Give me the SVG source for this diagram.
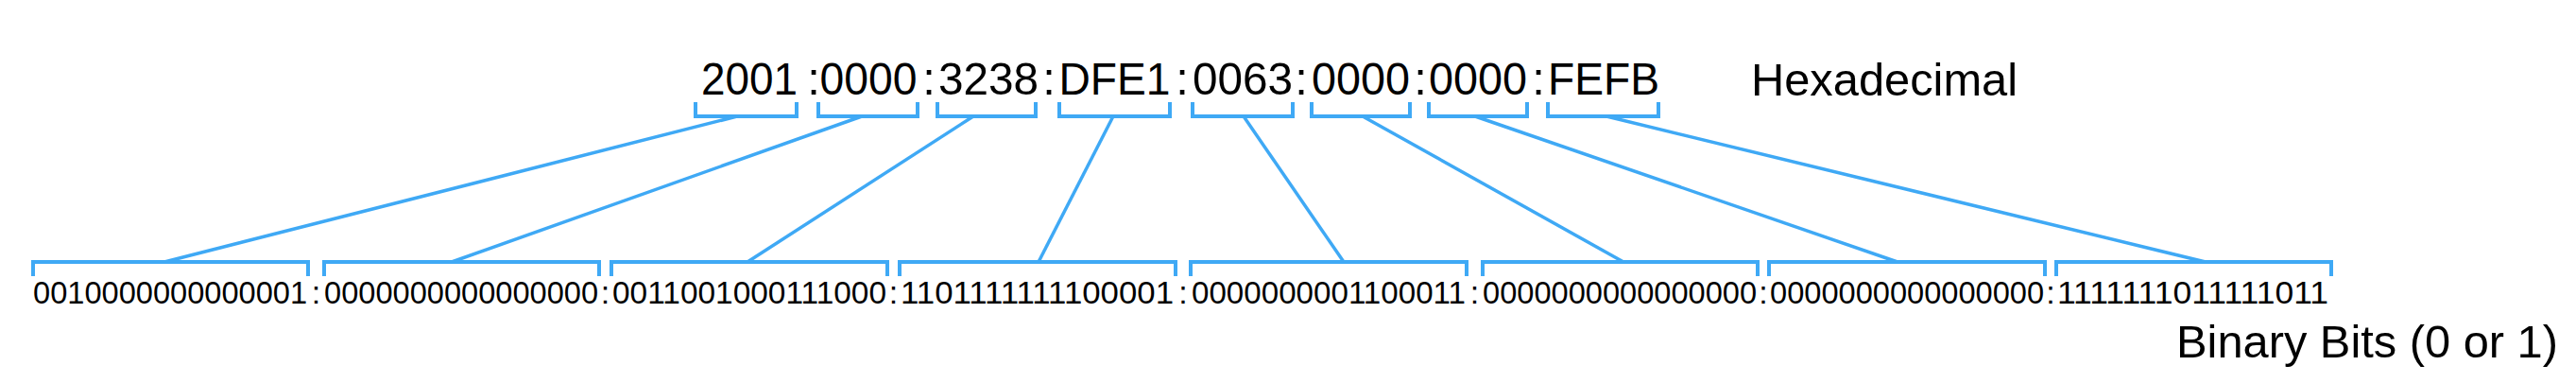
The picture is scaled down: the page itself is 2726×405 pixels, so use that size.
<svg xmlns="http://www.w3.org/2000/svg" width="2726" height="405" viewBox="0 0 2726 405">
<style>
.br{fill:none;stroke:#3fa9f5;stroke-width:4;stroke-linejoin:miter}
.cn{fill:none;stroke:#3fa9f5;stroke-width:3.5}
.hx{font-family:"Liberation Sans",Arial,sans-serif;font-size:49px;fill:#000;text-anchor:middle}
.lb{font-family:"Liberation Sans",Arial,sans-serif;font-size:49px;fill:#000}
.bn{font-family:"Liberation Sans",Arial,sans-serif;font-size:34px;fill:#000}
.bc{font-family:"Liberation Sans",Arial,sans-serif;font-size:34px;fill:#000;text-anchor:middle}
</style>
<rect width="2726" height="405" fill="#fff"/>
<g id="hex-row">
<g id="hex1"><path class="br" d="M736,108V123H843V108"/><text class="hx" x="793" y="100" textLength="102" lengthAdjust="spacingAndGlyphs">2001</text></g>
<text class="hx" x="861" y="100">:</text>
<g id="hex2"><path class="br" d="M866,108V123H971V108"/><text class="hx" x="919" y="100" textLength="103" lengthAdjust="spacingAndGlyphs">0000</text></g>
<text class="hx" x="983" y="100">:</text>
<g id="hex3"><path class="br" d="M992,108V123H1096V108"/><text class="hx" x="1046" y="100" textLength="106" lengthAdjust="spacingAndGlyphs">3238</text></g>
<text class="hx" x="1110" y="100">:</text>
<g id="hex4"><path class="br" d="M1121,108V123H1238V108"/><text class="hx" x="1179.5" y="100" textLength="118" lengthAdjust="spacingAndGlyphs">DFE1</text></g>
<text class="hx" x="1251" y="100">:</text>
<g id="hex5"><path class="br" d="M1262,108V123H1368V108"/><text class="hx" x="1315" y="100" textLength="106" lengthAdjust="spacingAndGlyphs">0063</text></g>
<text class="hx" x="1377" y="100">:</text>
<g id="hex6"><path class="br" d="M1388,108V123H1492V108"/><text class="hx" x="1440" y="100" textLength="104" lengthAdjust="spacingAndGlyphs">0000</text></g>
<text class="hx" x="1503" y="100">:</text>
<g id="hex7"><path class="br" d="M1512,108V123H1616V108"/><text class="hx" x="1564" y="100" textLength="104" lengthAdjust="spacingAndGlyphs">0000</text></g>
<text class="hx" x="1628" y="100">:</text>
<g id="hex8"><path class="br" d="M1638,108V123H1755V108"/><text class="hx" x="1697" y="100" textLength="118" lengthAdjust="spacingAndGlyphs">FEFB</text></g>
</g>
<g id="label-hex"><text class="lb" x="1853" y="101" textLength="282" lengthAdjust="spacingAndGlyphs">Hexadecimal</text></g>
<g id="connectors">
<line class="cn" x1="780" y1="123" x2="174" y2="277"/>
<line class="cn" x1="912" y1="123" x2="478" y2="277"/>
<line class="cn" x1="1030" y1="123" x2="791" y2="277"/>
<line class="cn" x1="1178" y1="123" x2="1099" y2="277"/>
<line class="cn" x1="1316" y1="123" x2="1422" y2="277"/>
<line class="cn" x1="1442" y1="123" x2="1718" y2="277"/>
<line class="cn" x1="1561" y1="123" x2="2008" y2="277"/>
<line class="cn" x1="1700" y1="123" x2="2334" y2="277"/>
</g>
<g id="bin-row">
<g id="bin1"><path class="br" d="M35,292V277H326V292"/><text class="bn" x="35" y="321" textLength="290" lengthAdjust="spacingAndGlyphs">0010000000000001</text></g>
<text class="bc" x="334.5" y="321">:</text>
<g id="bin2"><path class="br" d="M343,292V277H634V292"/><text class="bn" x="343" y="321" textLength="290" lengthAdjust="spacingAndGlyphs">0000000000000000</text></g>
<text class="bc" x="640.5" y="321">:</text>
<g id="bin3"><path class="br" d="M647,292V277H939V292"/><text class="bn" x="648" y="321" textLength="290" lengthAdjust="spacingAndGlyphs">0011001000111000</text></g>
<text class="bc" x="945.5" y="321">:</text>
<g id="bin4"><path class="br" d="M952,292V277H1244V292"/><text class="bn" x="953" y="321" textLength="289" lengthAdjust="spacingAndGlyphs">1101111111100001</text></g>
<text class="bc" x="1252" y="321">:</text>
<g id="bin5"><path class="br" d="M1260,292V277H1552V292"/><text class="bn" x="1261" y="321" textLength="290" lengthAdjust="spacingAndGlyphs">0000000001100011</text></g>
<text class="bc" x="1560.5" y="321">:</text>
<g id="bin6"><path class="br" d="M1569,292V277H1860V292"/><text class="bn" x="1569" y="321" textLength="290" lengthAdjust="spacingAndGlyphs">0000000000000000</text></g>
<text class="bc" x="1866" y="321">:</text>
<g id="bin7"><path class="br" d="M1872,292V277H2164V292"/><text class="bn" x="1873" y="321" textLength="290" lengthAdjust="spacingAndGlyphs">0000000000000000</text></g>
<text class="bc" x="2170" y="321">:</text>
<g id="bin8"><path class="br" d="M2176,292V277H2467V292"/><text class="bn" x="2177" y="321" textLength="287" lengthAdjust="spacingAndGlyphs">1111111011111011</text></g>
</g>
<g id="label-bin"><text class="lb" x="2303" y="378" textLength="404" lengthAdjust="spacingAndGlyphs">Binary Bits (0 or 1)</text></g>
</svg>
